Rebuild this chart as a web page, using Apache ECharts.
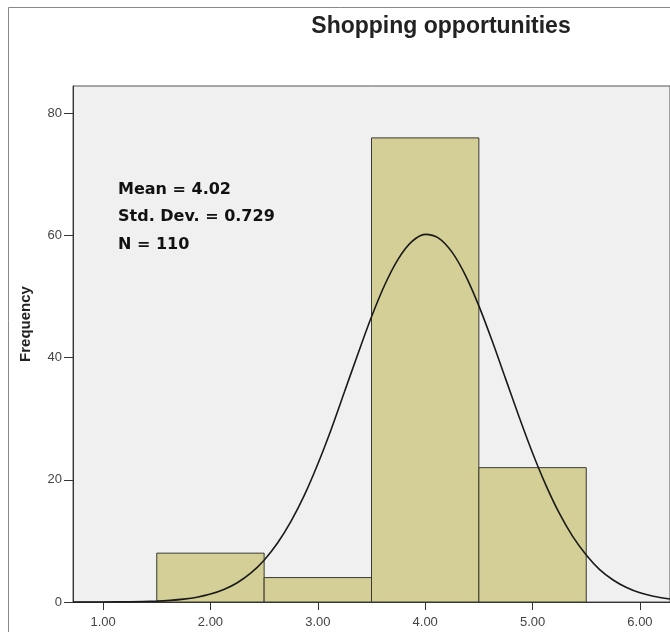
<!DOCTYPE html>
<html><head><meta charset="utf-8">
<script src="https://cdn.jsdelivr.net/npm/echarts@6/dist/echarts.min.js"></script>
<style>html,body{margin:0;padding:0;background:#fff}#c{width:670px;height:632px}</style>
</head><body><div id="c"></div>
<script>
const title = 'Shopping opportunities';
const yName = 'Frequency';
const binCenters = [2, 3, 4, 5];
const binCounts = [8, 4, 76, 22];
const binWidth = 1;
const xTicks = [1, 2, 3, 4, 5, 6];
const yTicks = [0, 20, 40, 60, 80];
const curveX = [0.72, 1.0, 1.25, 1.5, 1.625, 1.75, 1.875, 2.0, 2.125, 2.25, 2.375, 2.5, 2.625, 2.75, 2.875, 3.0, 3.125, 3.25, 3.375, 3.5, 3.625, 3.75, 3.875, 4.0, 4.125, 4.25, 4.375, 4.5, 4.625, 4.75, 4.875, 5.0, 5.125, 5.25, 5.375, 5.5, 5.625, 5.75, 5.875, 6.0, 6.125, 6.28];
const curveY = [0.0, 0.01, 0.04, 0.15, 0.27, 0.47, 0.79, 1.3, 2.05, 3.16, 4.72, 6.85, 9.65, 13.2, 17.5, 22.6, 28.3, 34.5, 40.7, 46.7, 52.0, 56.2, 59.0, 60.2, 59.6, 57.3, 53.5, 48.5, 42.7, 36.5, 30.3, 24.4, 19.1, 14.5, 10.7, 7.7, 5.3, 3.6, 2.37, 1.5, 0.93, 0.49];
const statsLines = ['Mean = 4.02', 'Std. Dev. = 0.729', 'N = 110'];

const chart = echarts.init(document.getElementById('c'));
const bars = binCenters.map((c, i) => [c - binWidth / 2, c + binWidth / 2, binCounts[i]]);
const curve = curveX.map((x, i) => [x, curveY[i]]);
const statsFont = 'bold 16px "DejaVu Sans"';

chart.setOption({
  animation: false,
  backgroundColor: '#fff',
  grid: {
    left: 73, right: 0, top: 86, bottom: 30, show: true,
    backgroundColor: '#f0f0f0', borderColor: '#555', borderWidth: 1
  },
  xAxis: {
    type: 'value', min: 0.72, max: 6.28,
    splitLine: {show: false},
    axisLine: {show: true, onZero: false, lineStyle: {color: '#333', width: 1}},
    axisTick: {show: true, length: 8, customValues: xTicks, lineStyle: {color: '#333'}},
    axisLabel: {customValues: xTicks, margin: 14, color: '#444', fontFamily: 'Liberation Sans', fontSize: 13,
      formatter: v => v.toFixed(2)}
  },
  yAxis: {
    type: 'value', min: 0, max: 84.5,
    splitLine: {show: false},
    axisLine: {show: true, lineStyle: {color: '#333', width: 1}},
    axisTick: {show: true, length: 9, customValues: yTicks, lineStyle: {color: '#333'}},
    axisLabel: {customValues: yTicks, margin: 11, color: '#444', fontFamily: 'Liberation Sans', fontSize: 13}
  },
  graphic: [
    {type: 'rect', shape: {x: 8.5, y: 7.5, width: 700, height: 700}, style: {fill: 'none', stroke: '#888', lineWidth: 1}, z: 100},
    {type: 'text', x: 441, y: 27, style: {text: title, fill: '#222', font: 'bold 23px "Liberation Sans"', align: 'center', verticalAlign: 'middle'}},
    {type: 'text', x: 26, y: 324, rotation: Math.PI / 2, style: {text: yName, fill: '#222', font: 'bold 15px "Liberation Sans"', align: 'center', verticalAlign: 'middle'}},
    {type: 'text', x: 118, y: 190, style: {text: statsLines[0], fill: '#111', font: statsFont, verticalAlign: 'middle'}},
    {type: 'text', x: 118, y: 217, style: {text: statsLines[1], fill: '#111', font: statsFont, verticalAlign: 'middle'}},
    {type: 'text', x: 118, y: 245, style: {text: statsLines[2], fill: '#111', font: statsFont, verticalAlign: 'middle'}}
  ],
  series: [
    {
      type: 'custom',
      data: bars,
      renderItem: (params, api) => {
        const p0 = api.coord([api.value(0), api.value(2)]);
        const p1 = api.coord([api.value(1), 0]);
        return {type: 'rect', shape: {x: p0[0], y: p0[1], width: p1[0] - p0[0], height: p1[1] - p0[1]},
          style: {fill: '#d4cf97', stroke: '#3a3a30', lineWidth: 1}};
      },
      z: 2
    },
    {
      type: 'line', data: curve, smooth: 0.3, symbol: 'none', clip: true,
      lineStyle: {color: '#1a1a1a', width: 1.6}, z: 3
    }
  ]
});
</script>
</body></html>
